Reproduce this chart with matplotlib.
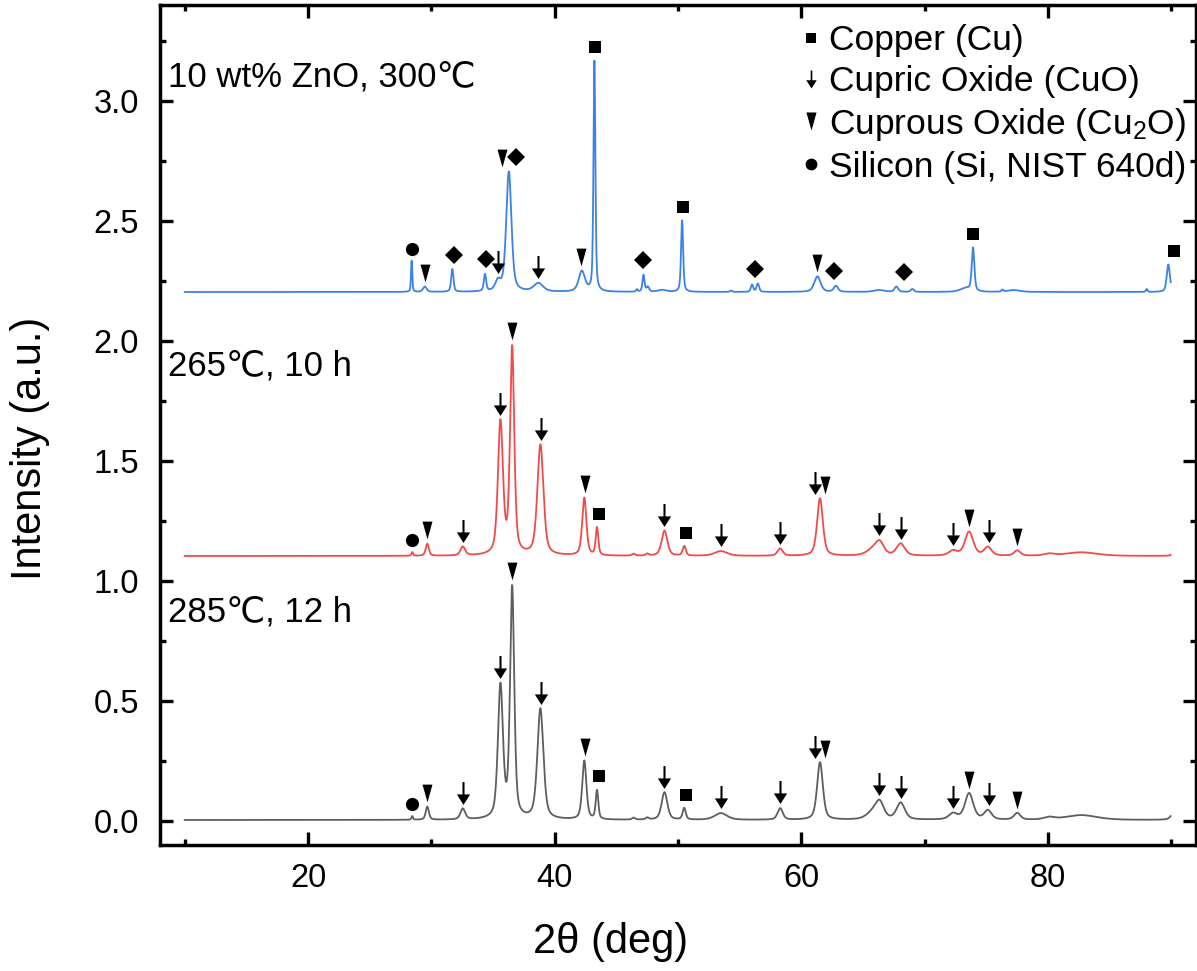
import numpy as np
import matplotlib.pyplot as plt
from matplotlib.lines import Line2D
from matplotlib.path import Path

plt.rcParams['font.family'] = ['Liberation Sans', 'DejaVu Sans']
plt.rcParams['mathtext.default'] = 'regular'

# scan range (deg 2theta)
scan_start, scan_end, scan_step = 10.0, 89.95, 0.02

# fitted reflections: centre (deg), height (a.u.), FWHM (deg)
# 285 C, 12 h
gray_pos = [28.45, 29.67, 32.55, 35.60, 36.55, 38.84, 42.40, 43.43, 46.40, 47.50, 48.90, 50.50,
            53.47, 58.28, 61.51, 65.80, 66.35, 68.05, 72.30, 73.60, 75.12, 77.50, 80.10, 82.70, 90.30]
gray_amp = [0.015, 0.055, 0.045, 0.55, 0.96, 0.46, 0.245, 0.12, 0.008, 0.008, 0.115, 0.048,
            0.028, 0.048, 0.24, 0.03, 0.065, 0.07, 0.025, 0.11, 0.038, 0.028, 0.01, 0.02, 0.04]
gray_fwhm = [0.15, 0.30, 0.45, 0.48, 0.40, 0.58, 0.40, 0.25, 0.30, 0.30, 0.55, 0.30,
             1.20, 0.50, 0.55, 1.20, 0.80, 0.80, 0.80, 0.80, 0.70, 0.60, 1.00, 3.00, 0.60]

# 265 C, 10 h
red_pos = gray_pos
red_amp = [0.015, 0.05, 0.037, 0.55, 0.86, 0.46, 0.24, 0.115, 0.008, 0.008, 0.105, 0.04,
           0.02, 0.03, 0.24, 0.025, 0.05, 0.05, 0.02, 0.10, 0.035, 0.022, 0.008, 0.015, 0.01]
red_fwhm = gray_fwhm

# 10 wt% ZnO, 300 C
blue_pos = [28.40, 29.47, 31.70, 34.35, 35.40, 36.28, 38.68, 42.20, 43.22, 46.67, 47.20, 47.55,
            48.70, 50.33, 54.30, 56.00, 56.47, 61.30, 62.80, 66.30, 67.70, 69.00, 73.30, 73.92,
            76.30, 77.20, 88.00, 89.75]
blue_amp = [0.13, 0.022, 0.095, 0.07, 0.04, 0.50, 0.035, 0.085, 0.96, 0.01, 0.07, 0.02,
            0.008, 0.30, 0.006, 0.03, 0.035, 0.065, 0.025, 0.008, 0.022, 0.012, 0.015, 0.18,
            0.008, 0.008, 0.012, 0.115]
blue_fwhm = [0.12, 0.35, 0.22, 0.22, 0.50, 0.50, 0.90, 0.60, 0.18, 0.15, 0.20, 0.25,
             0.80, 0.20, 0.20, 0.22, 0.25, 0.60, 0.40, 1.00, 0.35, 0.30, 1.00, 0.25,
             0.15, 1.20, 0.15, 0.30]

offsets = [0.0, 1.1, 2.2]
colors = ['#5e5e5e', '#f24a4a', '#3b82e6']
sample_labels = ['285℃, 12 h', '265℃, 10 h', '10 wt% ZnO, 300℃']
label_pos = [(8.68, 0.833), (8.68, 1.854), (8.68, 3.06)]

# phase markers: (phase, marker position, reflection it sits on)
gray_marks = [('si', 28.45, 28.45), ('cu2o', 29.67, 29.67), ('cuo', 32.58, 32.55),
              ('cuo', 35.60, 35.60), ('cu2o', 36.55, 36.55), ('cuo', 38.90, 38.84),
              ('cu2o', 42.43, 42.40), ('cu', 43.56, 43.43), ('cuo', 48.83, 48.90),
              ('cu', 50.66, 50.50), ('cuo', 53.47, 53.47), ('cuo', 58.28, 58.28),
              ('cuo', 61.12, 61.51), ('cu2o', 61.95, 61.51), ('cuo', 66.32, 66.32),
              ('cuo', 68.05, 68.05), ('cuo', 72.30, 72.30), ('cu2o', 73.60, 73.60),
              ('cuo', 75.20, 75.12), ('cu2o', 77.50, 77.50)]
red_marks = gray_marks
blue_marks = [('si', 28.40, 28.40), ('cu2o', 29.50, 29.47), ('zno', 31.80, 31.70),
              ('zno', 34.40, 34.35), ('cuo', 35.40, 35.40), ('cu2o', 35.74, 36.28),
              ('zno', 36.87, 36.28), ('cuo', 38.68, 38.68), ('cu2o', 42.16, 42.20),
              ('cu', 43.24, 43.22), ('zno', 47.13, 47.20), ('cu', 50.40, 50.33),
              ('zno', 56.20, 56.47), ('cu2o', 61.30, 61.30), ('zno', 62.67, 62.80),
              ('zno', 68.30, 67.70), ('cu', 73.88, 73.92), ('cu', 90.18, 89.75)]

legend_phases = ['cu', 'cuo', 'cu2o', 'si']
legend_labels = ['Copper (Cu)', 'Cupric Oxide (CuO)', 'Cuprous Oxide (Cu$_2$O)',
                 'Silicon (Si, NIST 640d)']


def pseudo_voigt(x, pos, amp, fwhm, eta=0.5):
    y = np.full_like(x, 0.004)
    for c, h, w in zip(pos, amp, fwhm):
        u = (x - c) / w
        y += h * (eta / (1 + 4 * u**2) + (1 - eta) * np.exp(-4 * np.log(2) * u**2))
    return y


tri = Path([(-0.28, 0.5), (0.28, 0.5), (0.0, -0.5), (-0.28, 0.5)],
           [Path.MOVETO, Path.LINETO, Path.LINETO, Path.CLOSEPOLY])
arrow = Path([(-0.045, 0.5), (0.045, 0.5), (0.045, -0.04), (0.29, -0.04), (0.0, -0.5),
              (-0.29, -0.04), (-0.045, -0.04), (-0.045, 0.5)],
             [Path.MOVETO] + [Path.LINETO] * 6 + [Path.CLOSEPOLY])

styles = {'cu': dict(marker='s', ms=9), 'cuo': dict(marker=arrow, ms=16.5),
          'cu2o': dict(marker=tri, ms=12.8), 'si': dict(marker='o', ms=9.5),
          'zno': dict(marker='D', ms=9)}
legend_ms = {'cu': 7.8, 'cuo': 13, 'cu2o': 13, 'si': 8.5}
gaps = {'cu': 0.055, 'cuo': 0.065, 'cu2o': 0.055, 'si': 0.05, 'zno': 0.06}

x = np.arange(scan_start, scan_end, scan_step)

fig = plt.figure(figsize=(11.97, 9.71), dpi=100)
ax = fig.add_axes([0.1337, 0.1298, 0.8655, 0.8651])

traces = [(gray_pos, gray_amp, gray_fwhm, gray_marks),
          (red_pos, red_amp, red_fwhm, red_marks),
          (blue_pos, blue_amp, blue_fwhm, blue_marks)]

for (pos, amp, fwhm, marks), off, col, lab, lp in zip(traces, offsets, colors,
                                                     sample_labels, label_pos):
    y = pseudo_voigt(x, pos, amp, fwhm) + off
    ax.plot(x, y, color=col, lw=1.3)
    for phase, xm, xa in marks:
        ym = pseudo_voigt(np.array([xa]), pos, amp, fwhm)[0] + off + gaps[phase]
        ax.plot([xm], [ym], ls='none', color='k', mew=0, **styles[phase])
    ax.text(lp[0], lp[1], lab, fontsize=25, va='baseline', ha='left')

handles = [Line2D([], [], ls='none', color='k', mew=0, marker=styles[p]['marker'],
                  ms=legend_ms[p]) for p in legend_phases]
ax.legend(handles, legend_labels, loc='upper left', bbox_to_anchor=(0.620, 0.977),
          frameon=False, fontsize=25.5, handlelength=0.5, handletextpad=0.25,
          labelspacing=0.22, borderpad=0, borderaxespad=0)

ax.set_xlim(8, 92)
ax.set_ylim(-0.1, 3.4)
ax.set_xticks([20, 40, 60, 80])
ax.set_xticks([10, 30, 50, 70, 90], minor=True)
ax.set_yticks(np.arange(0, 3.01, 0.5))
ax.set_yticks(np.arange(0.25, 3.3, 0.5), minor=True)
ax.set_yticklabels([f'{v:.1f}' for v in np.arange(0, 3.01, 0.5)])

ax.tick_params(which='both', direction='in', top=True, right=True, width=2.4,
               labelsize=23.5, pad=15)
ax.tick_params(axis='x', pad=13)
ax.tick_params(which='major', length=9.5)
ax.tick_params(which='minor', length=4.5)
for s in ax.spines.values():
    s.set_linewidth(2.5)

ax.set_xlabel('2θ (deg)', fontsize=30)
ax.set_ylabel('Intensity (a.u.)', fontsize=30)
ax.xaxis.set_label_coords(0.435, -0.092)
ax.yaxis.set_label_coords(-0.106, 0.472)

fig.savefig('out.png', dpi=100)
